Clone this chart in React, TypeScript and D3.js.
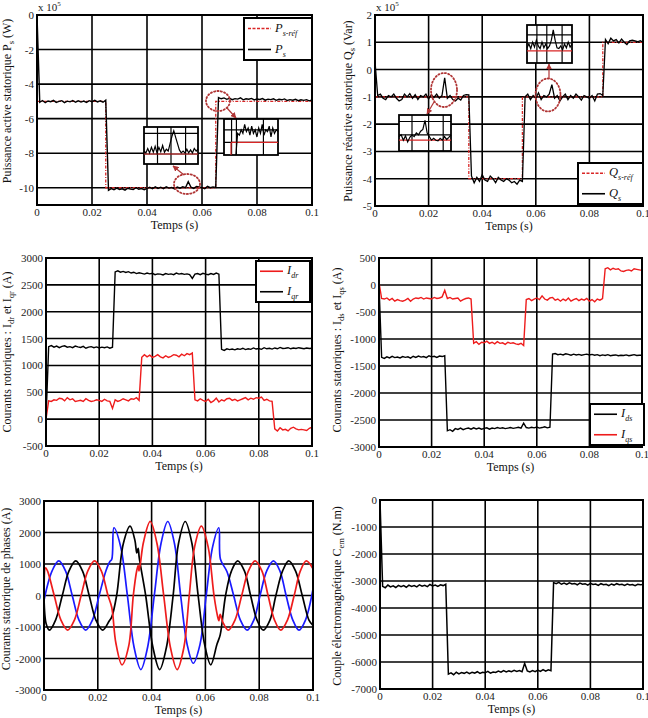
import React from "react";
import * as d3 from "d3";

const FONT = "'Liberation Serif', 'Times New Roman', serif";
const TIME_TICKS = [0, 0.02, 0.04, 0.06, 0.08, 0.1];
const TIME_TICK_LABELS = ["0", "0.02", "0.04", "0.06", "0.08", "0.1"];
const SAMPLE_STEP = 0.001;

// Ps (x 1e5 W), sampled every 1 ms
const PS_VALUES = [
  0, -5.05, -4.95, -5.08, -4.98, -5.02, -4.94, -5.06, -5.0, -4.96,
  -5.07, -4.99, -5.03, -4.95, -5.05, -4.97, -5.04, -4.98, -5.06, -4.96,
  -5.02, -4.94, -5.03, -4.97, -5.05, -4.93, -10.15, -10.05, -10.12, -10.02,
  -10.1, -10.06, -10.14, -10.03, -10.08, -10.11, -10.0, -10.09, -10.05, -10.12,
  -10.04, -9.98, -10.06, -9.95, -10.04, -9.97, -10.05, -9.94, -10.02, -9.98,
  -10.07, -9.96, -10.03, -9.95, -10.0, -9.65, -9.97, -10.04, -9.93, -9.96,
  -9.99, -10.05, -9.92, -10.0, -9.95, -9.98, -4.78, -4.85, -4.8, -4.88,
  -4.82, -4.9, -4.84, -4.87, -4.8, -4.91, -4.85, -4.88, -4.83, -4.92,
  -4.86, -4.89, -4.84, -4.93, -4.87, -4.9, -4.85, -4.94, -4.88, -4.91,
  -4.86, -4.95, -4.9, -4.93, -4.88, -4.96, -4.91, -4.94, -4.9, -4.97,
  -4.92,
];
const PS_REF_BREAKS = [0, 0.025, 0.065, 0.1];
const PS_REF_LEVELS = [-5, -10, -5];

// Qs (x 1e5 Var)
const QS_VALUES = [
  0.3, -0.95, -0.9, -1.05, -1.1, -0.95, -1.0, -0.9, -1.05, -1.15,
  -1.1, -0.9, -1.0, -0.88, -1.05, -0.92, -1.1, -0.95, -1.0, -0.9,
  -1.08, -0.92, -1.02, -0.9, -1.05, -0.95, -0.3, -1.05, -0.95, -1.1,
  -1.15, -1.05, -1.12, -0.95, -0.92, -0.93, -3.9, -4.15, -3.95, -4.1,
  -3.85, -4.05, -4.1, -3.9, -4.0, -4.15, -3.95, -4.05, -4.1, -4.0,
  -4.05, -4.15, -4.1, -4.2, -4.05, -4.1, -1.0, -0.9, -1.1, -0.95,
  -1.05, -0.85, -1.1, -0.95, -1.0, -0.9, -0.55, -1.05, -0.95, -1.15,
  -1.0, -0.9, -1.1, -0.95, -1.05, -0.9, -1.0, -1.12, -0.95, -1.0,
  -1.05, -0.95, -1.15, -0.9, -0.88, -0.95, 1.1, 0.95, 1.15, 1.05,
  1.1, 0.98, 1.12, 1.0, 0.92, 1.05, 1.08, 1.05, 1.02, 1.06,
  1.0,
];
const QS_REF_BREAKS = [0, 0.035, 0.055, 0.085, 0.1];
const QS_REF_LEVELS = [-1, -4, -1, 1];

// Rotor currents (A)
const IQR_VALUES = [
  0, 1350, 1370, 1340, 1360, 1330, 1355, 1365, 1340, 1350,
  1330, 1360, 1345, 1335, 1355, 1320, 1340, 1350, 1330, 1345,
  1325, 1340, 1330, 1345, 1320, 1340, 2740, 2760, 2735, 2750,
  2730, 2745, 2720, 2735, 2710, 2725, 2715, 2700, 2720, 2705,
  2715, 2690, 2705, 2700, 2685, 2710, 2695, 2705, 2690, 2720,
  2700, 2710, 2695, 2705, 2690, 2620, 2700, 2710, 2690, 2715,
  2700, 2690, 2710, 2695, 2720, 2700, 1300, 1280, 1310, 1295,
  1305, 1290, 1310, 1300, 1320, 1295, 1310, 1300, 1325, 1305,
  1315, 1300, 1330, 1310, 1320, 1305, 1325, 1310, 1335, 1315,
  1320, 1330, 1310, 1325, 1315, 1330, 1320, 1310, 1325, 1315,
  1320,
];
const IDR_VALUES = [
  0, 340, 330, 360, 350, 390, 380, 340, 400, 360,
  380, 330, 340, 350, 330, 380, 350, 330, 340, 360,
  350, 330, 370, 340, 330, 200, 360, 330, 350, 380,
  360, 340, 380, 370, 400, 350, 1150, 1200, 1160, 1190,
  1150, 1170, 1200, 1160, 1140, 1180, 1150, 1170, 1200, 1190,
  1160, 1210, 1180, 1220, 1200, 1230, 360, 340, 380, 350,
  330, 370, 310, 340, 390, 320, 360, 340, 380, 390,
  350, 370, 340, 360, 380, 400, 360, 390, 370, 400,
  390, 410, 350, 370, 340, 330, -180, -220, -160, -200,
  -190, -220, -170, -150, -180, -200, -190, -200, -210, -170,
  -150,
];

// Stator dq currents (A)
const IDS_VALUES = [
  0, -1340, -1360, -1330, -1350, -1320, -1345, -1335, -1350, -1325,
  -1340, -1330, -1355, -1320, -1340, -1315, -1335, -1325, -1345, -1310,
  -1330, -1320, -1340, -1315, -1325, -1310, -2700, -2680, -2710, -2660,
  -2675, -2650, -2680, -2660, -2650, -2670, -2645, -2665, -2650, -2670,
  -2655, -2645, -2670, -2650, -2660, -2640, -2655, -2645, -2660, -2650,
  -2640, -2655, -2645, -2635, -2650, -2560, -2640, -2650, -2635, -2645,
  -2630, -2650, -2640, -2625, -2645, -2635, -1280, -1270, -1290, -1280,
  -1295, -1275, -1285, -1300, -1280, -1295, -1285, -1300, -1290, -1280,
  -1295, -1285, -1300, -1290, -1310, -1295, -1305, -1290, -1310, -1300,
  -1295, -1310, -1300, -1305, -1295, -1310, -1300, -1290, -1305, -1300,
  -1300,
];
const IQS_VALUES = [
  50, -250, -260, -240, -280, -250, -300, -270, -290, -300,
  -280, -250, -300, -260, -240, -250, -230, -260, -240, -250,
  -260, -230, -250, -240, -220, -100, -250, -230, -260, -250,
  -240, -300, -270, -250, -240, -260, -1080, -1050, -1100, -1060,
  -1070, -1040, -1080, -1060, -1090, -1050, -1080, -1070, -1100, -1060,
  -1080, -1070, -1090, -1100, -1080, -1120, -270, -250, -290, -260,
  -240, -270, -200, -260, -280, -240, -230, -280, -260, -300,
  -260, -290, -240, -300, -270, -250, -290, -260, -280, -250,
  -300, -270, -310, -260, -280, -250, 300, 320, 280, 310,
  290, 300, 260, 250, 270, 280, 260, 300, 290, 280,
  270,
];

// Electromagnetic torque (N.m)
const CEM_VALUES = [
  0, -3200, -3250, -3150, -3220, -3180, -3240, -3160, -3210, -3170,
  -3230, -3150, -3200, -3170, -3220, -3140, -3190, -3160, -3210, -3130,
  -3180, -3150, -3200, -3140, -3170, -3120, -6450, -6400, -6470, -6380,
  -6440, -6390, -6420, -6370, -6430, -6380, -6410, -6360, -6420, -6380,
  -6400, -6350, -6410, -6370, -6390, -6340, -6380, -6320, -6370, -6330,
  -6360, -6310, -6350, -6320, -6360, -6050, -6330, -6370, -6320, -6360,
  -6300, -6350, -6280, -6340, -6290, -6320, -3060, -3100, -3050, -3120,
  -3080, -3130, -3070, -3110, -3090, -3140, -3080, -3120, -3100, -3150,
  -3090, -3130, -3110, -3160, -3100, -3140, -3120, -3170, -3110, -3150,
  -3100, -3140, -3120, -3160, -3110, -3150, -3130, -3170, -3120, -3140,
  -3130,
];

// Phase currents (t [s], i [A])
const PHASE_BLUE: [number, number][] = [
  [0, -150], [0.003, 780], [0.0055, 1100], [0.008, 780], [0.0105, 0], [0.013, -780],
  [0.0155, -1100], [0.018, -780], [0.0205, 0], [0.023, 780], [0.0245, 1080], [0.0252, 1150],
  [0.026, 2150], [0.0285, 1550], [0.031, 0], [0.0335, -1650], [0.036, -2350], [0.0385, -1650],
  [0.041, 0], [0.0435, 1650], [0.046, 2350], [0.0485, 1650], [0.0508, 0], [0.0532, -1550],
  [0.0555, -2150], [0.058, -1550], [0.0603, 0], [0.0627, 1550], [0.065, 2150], [0.0656, 1150],
  [0.068, 760], [0.0705, 0], [0.073, -780], [0.0755, -1100], [0.078, -780], [0.0803, 0],
  [0.0828, 780], [0.0853, 1100], [0.0877, 780], [0.09, 0], [0.0925, -780], [0.0948, -1100],
  [0.0972, -780], [0.1, 200],
];
const PHASE_BLACK: [number, number][] = [
  [0, -50], [0.0008, -900], [0.002, -1100], [0.0043, -780], [0.0068, 0], [0.0093, 780],
  [0.0118, 1100], [0.0143, 780], [0.0168, 0], [0.0193, -780], [0.0218, -1100], [0.0243, -800],
  [0.0252, -680], [0.027, 0], [0.0295, 1650], [0.032, 2200], [0.0338, 1750], [0.0345, 1350],
  [0.035, 1500], [0.0354, 1200], [0.0378, 0], [0.0405, -1650], [0.043, -2350], [0.0455, -1650],
  [0.048, 0], [0.05, 1650], [0.0525, 2350], [0.055, 1650], [0.0573, 0], [0.0597, -1550],
  [0.062, -2200], [0.0643, -1550], [0.0655, -1250], [0.0675, 0], [0.0697, 780], [0.072, 1100],
  [0.0745, 780], [0.0768, 0], [0.0792, -780], [0.0815, -1100], [0.084, -780], [0.0862, 0],
  [0.0887, 780], [0.091, 1100], [0.0935, 780], [0.096, 0], [0.0985, -780], [0.1, -950],
];
const PHASE_RED: [number, number][] = [
  [0, 0], [0.0006, 880], [0.0013, 780], [0.0038, 0], [0.0063, -780], [0.0088, -1100],
  [0.0113, -780], [0.0138, 0], [0.0163, 780], [0.0188, 1100], [0.0213, 780], [0.0238, 0],
  [0.0252, -380], [0.0267, -1500], [0.029, -2200], [0.0315, -1600], [0.0332, 0], [0.0345, 800],
  [0.035, 950], [0.0353, 780], [0.0358, 1000], [0.037, 1700], [0.0395, 2350], [0.042, 1650],
  [0.0445, 0], [0.047, -1650], [0.0495, -2350], [0.052, -1650], [0.054, 0], [0.056, 1550],
  [0.0585, 2200], [0.061, 1550], [0.0632, 0], [0.0645, -650], [0.065, -800], [0.0655, -600],
  [0.0665, -850], [0.0685, -1100], [0.071, -780], [0.0735, 0], [0.076, 780], [0.0785, 1100],
  [0.081, 780], [0.0833, 0], [0.0857, -780], [0.088, -1100], [0.0905, -780], [0.093, 0],
  [0.0953, 780], [0.0975, 1100], [0.1, 850],
];

// Zoomed inset traces (relative level 0..1)
const INSET_PS_DIP = [0.35, 0.3, 0.42, 0.3, 0.45, 0.32, 0.48, 0.3, 0.45, 0.33, 0.5, 0.32, 0.4, 0.35, 0.55, 0.75, 0.9, 0.72, 0.55, 0.38, 0.3, 0.35, 0.3, 0.4, 0.3, 0.38, 0.3, 0.42, 0.35, 0.4];
const INSET_PS_RISE = [0.0, 0.6, 0.55, 0.7, 0.6, 0.85, 0.65, 0.75, 0.55, 0.8, 0.6, 0.7, 0.5, 0.75, 0.6, 0.85, 0.55, 0.7, 0.65, 0.8, 0.5, 0.75, 0.6, 0.7, 0.65];
const INSET_QS_LEFT = [0.4, 0.45, 0.3, 0.42, 0.25, 0.38, 0.45, 0.4, 0.5, 0.45, 0.55, 0.6, 0.85, 0.5, 0.4, 0.3, 0.35, 0.3, 0.28, 0.35, 0.3, 0.4, 0.32, 0.38, 0.45];
const INSET_QS_RIGHT = [0.4, 0.5, 0.38, 0.55, 0.42, 0.6, 0.45, 0.38, 0.55, 0.4, 0.5, 0.38, 0.45, 0.6, 0.87, 0.6, 0.4, 0.38, 0.45, 0.35, 0.5, 0.4, 0.55, 0.42, 0.5];

const P1_TICKS = [0, -2, -4, -6, -8, -10];
const P2_TICKS = [2, 1, 0, -1, -2, -3, -4, -5];
const P3_TICKS = [3000, 2500, 2000, 1500, 1000, 500, 0, -500];
const P4_TICKS = [500, 0, -500, -1000, -1500, -2000, -2500, -3000];
const P5_TICKS = [3000, 2000, 1000, 0, -1000, -2000, -3000];
const P6_TICKS = [0, -1000, -2000, -3000, -4000, -5000, -6000, -7000];

type Cfg = {
  id: string; left: number; right: number; top: number; bottom: number;
  domain: [number, number]; ticks: number[]; labelX: number; labelY: number;
};

const C1: Cfg = { id: "p1", left: 37, right: 312, top: 15, bottom: 205, domain: [-11, 0], ticks: P1_TICKS, labelX: 11, labelY: 101 };
const C2: Cfg = { id: "p2", left: 375, right: 643, top: 15, bottom: 206, domain: [-5, 2], ticks: P2_TICKS, labelX: 352, labelY: 111 };
const C3: Cfg = { id: "p3", left: 46, right: 312, top: 258, bottom: 446, domain: [-500, 3000], ticks: P3_TICKS, labelX: 11, labelY: 352 };
const C4: Cfg = { id: "p4", left: 379, right: 642, top: 258, bottom: 447, domain: [-3000, 500], ticks: P4_TICKS, labelX: 341, labelY: 350 };
const C5: Cfg = { id: "p5", left: 44, right: 313, top: 501, bottom: 690, domain: [-3000, 3000], ticks: P5_TICKS, labelX: 10, labelY: 589 };
const C6: Cfg = { id: "p6", left: 380, right: 643, top: 500, bottom: 689, domain: [-7000, 0], ticks: P6_TICKS, labelX: 341, labelY: 596 };

const RED = "#ee1c1c";
const REF_RED = "#d92626";
const BLUE = "#1a1aff";
const DARK_RED = "#b03535";

type Sc = d3.ScaleLinear<number, number>;

function sampled(values: number[]): [number, number][] {
  return values.map((v, i) => [i * SAMPLE_STEP, v]);
}
function stepped(breaks: number[], levels: number[]): [number, number][] {
  const pts: [number, number][] = [];
  levels.forEach((lv, k) => { pts.push([breaks[k], lv]); pts.push([breaks[k + 1], lv]); });
  return pts;
}
function linePath(x: Sc, y: Sc, pts: [number, number][], curve?: d3.CurveFactory) {
  const g = d3.line<[number, number]>().x((d) => x(d[0])).y((d) => y(d[1]));
  if (curve) g.curve(curve);
  return g(pts) || "";
}

function Panel({ cfg, yLabel, children, overlay, xLabelOffset = 24 }: {
  cfg: Cfg; yLabel: React.ReactNode; children: (x: Sc, y: Sc) => React.ReactNode;
  overlay?: (x: Sc, y: Sc) => React.ReactNode; xLabelOffset?: number;
}) {
  const x = d3.scaleLinear().domain([0, 0.1]).range([cfg.left, cfg.right]);
  const y = d3.scaleLinear().domain(cfg.domain).range([cfg.bottom, cfg.top]);
  return (
    <g>
      <defs>
        <clipPath id={cfg.id + "clip"}>
          <rect x={cfg.left} y={cfg.top} width={cfg.right - cfg.left} height={cfg.bottom - cfg.top} />
        </clipPath>
      </defs>
      {TIME_TICKS.map((t) => (
        <line key={"gx" + t} x1={x(t)} x2={x(t)} y1={cfg.top} y2={cfg.bottom} stroke="#000" strokeWidth={1.6} />
      ))}
      {cfg.ticks.map((v) => (
        <line key={"gy" + v} x1={cfg.left} x2={cfg.right} y1={y(v)} y2={y(v)} stroke="#000" strokeWidth={1.6} />
      ))}
      <g clipPath={`url(#${cfg.id}clip)`}>{children(x, y)}</g>
      <rect x={cfg.left} y={cfg.top} width={cfg.right - cfg.left} height={cfg.bottom - cfg.top} fill="none" stroke="#000" strokeWidth={2} />
      {overlay ? overlay(x, y) : null}
      {cfg.ticks.map((v) => (
        <text key={"ty" + v} x={cfg.left - 3} y={y(v) + 4} fontSize={11} textAnchor="end" fill="#222">{String(v)}</text>
      ))}
      {TIME_TICKS.map((t, i) => (
        <text key={"tx" + t} x={x(t)} y={cfg.bottom + 11} fontSize={11} textAnchor="middle" fill="#222">{TIME_TICK_LABELS[i]}</text>
      ))}
      <text x={(cfg.left + cfg.right) / 2} y={cfg.bottom + xLabelOffset} fontSize={12} textAnchor="middle" fill="#111">Temps (s)</text>
      <text transform={`translate(${cfg.labelX},${cfg.labelY}) rotate(-90)`} fontSize={12} textAnchor="middle" fill="#111">{yLabel}</text>
    </g>
  );
}

function Inset({ box, gridX, gridY, trace, xStart, redLevel, redFrom, redVertical }: {
  box: { x: number; y: number; w: number; h: number }; gridX: number[]; gridY: number[];
  trace: number[]; xStart: number; redLevel: number; redFrom: number; redVertical?: number;
}) {
  const sx = d3.scaleLinear().domain([0, 1]).range([box.x, box.x + box.w]);
  const sy = d3.scaleLinear().domain([0, 1]).range([box.y + box.h, box.y]);
  const pts: [number, number][] = trace.map((v, i) => [xStart + (i * (1 - xStart)) / (trace.length - 1), v]);
  return (
    <g>
      <rect x={box.x} y={box.y} width={box.w} height={box.h} fill="#fff" stroke="#000" strokeWidth={1.8} />
      {gridX.map((g) => <line key={"ix" + g} x1={sx(g)} x2={sx(g)} y1={box.y} y2={box.y + box.h} stroke="#000" strokeWidth={1.2} />)}
      {gridY.map((g) => <line key={"iy" + g} x1={box.x} x2={box.x + box.w} y1={sy(g)} y2={sy(g)} stroke="#000" strokeWidth={1.2} />)}
      <line x1={sx(redFrom)} x2={sx(1)} y1={sy(redLevel)} y2={sy(redLevel)} stroke={REF_RED} strokeWidth={1.2} />
      {redVertical !== undefined ? (
        <line x1={sx(redVertical)} x2={sx(redVertical)} y1={sy(0)} y2={sy(redLevel)} stroke={REF_RED} strokeWidth={1.2} />
      ) : null}
      <path d={linePath(sx, sy, pts)} fill="none" stroke="#000" strokeWidth={1.2} />
    </g>
  );
}

function Callout({ cx, cy, rx, ry, ax1, ay1, ax2, ay2 }: { cx: number; cy: number; rx: number; ry: number; ax1: number; ay1: number; ax2: number; ay2: number }) {
  return (
    <g>
      <ellipse cx={cx} cy={cy} rx={rx} ry={ry} fill="none" stroke={DARK_RED} strokeWidth={1.8} strokeDasharray="1.2,2.2" strokeLinecap="round" />
      <line x1={ax1} y1={ay1} x2={ax2} y2={ay2} stroke={DARK_RED} strokeWidth={1.2} markerEnd="url(#arrowHead)" />
    </g>
  );
}

function LegendBox({ x, y, w, h, items }: { x: number; y: number; w: number; h: number; items: { color: string; dash?: string; main: string; sub: string }[] }) {
  const rowH = h / items.length;
  return (
    <g>
      <rect x={x} y={y} width={w} height={h} fill="#fff" stroke="#000" strokeWidth={2} />
      {items.map((it, i) => {
        const cy = y + rowH * (i + 0.5);
        return (
          <g key={it.main + it.sub}>
            <line x1={x + 4} x2={x + 27} y1={cy} y2={cy} stroke={it.color} strokeWidth={it.dash ? 1.4 : 1.6} strokeDasharray={it.dash} />
            <text x={x + 31} y={cy + 3} fontSize={12.5} fontStyle="italic" fill="#111">
              {it.main}
              <tspan fontSize={8} dy={4}>{it.sub}</tspan>
            </text>
          </g>
        );
      })}
    </g>
  );
}

export default function App() {
  return (
    <svg width={648} height={718} style={{ position: "absolute", left: 0, top: 0, background: "#fff" }} fontFamily={FONT}>
      <defs>
        <marker id="arrowHead" viewBox="0 0 10 10" refX="9" refY="5" markerWidth="5" markerHeight="5" orient="auto">
          <path d="M0,0 L10,5 L0,10 z" fill={DARK_RED} />
        </marker>
      </defs>
      <rect width={648} height={718} fill="#fff" />

      {/* Panel 1: Ps */}
      <Panel
        cfg={C1}
        yLabel={<>Puissance active statorique P<tspan fontSize={8.5} dy={3}>s</tspan><tspan dy={-3}> (W)</tspan></>}
        children={(x, y) => (
          <g>
            <path d={linePath(x, y, stepped(PS_REF_BREAKS, PS_REF_LEVELS))} fill="none" stroke={REF_RED} strokeWidth={1.3} strokeDasharray="3,1.5,1,1.5" />
            <path d={linePath(x, y, sampled(PS_VALUES))} fill="none" stroke="#000" strokeWidth={1.4} />
          </g>
        )}
        overlay={() => (
          <g>
            <Callout cx={218} cy={101} rx={12} ry={10} ax1={227} ay1={108} ax2={236} ay2={118} />
            <Callout cx={187} cy={184} rx={13} ry={10} ax1={184} ay1={175} ax2={173} ay2={166} />
            <Inset box={{ x: 144, y: 127, w: 54, h: 37 }} gridX={[0.25, 0.5, 0.77]} gridY={[0.83, 0.27]} trace={INSET_PS_DIP} xStart={0} redLevel={0.27} redFrom={0} />
            <Inset box={{ x: 224, y: 119, w: 54, h: 36 }} gridX={[0.14, 0.23, 0.73]} gridY={[0.7, 0.35]} trace={INSET_PS_RISE} xStart={0.22} redLevel={0.35} redFrom={0.13} redVertical={0.13} />
            <LegendBox x={244} y={18} w={68} h={42} items={[
              { color: REF_RED, dash: "3,1.5", main: "P", sub: "s-réf" },
              { color: "#000", main: "P", sub: "s" },
            ]} />
            <text x={C1.left + 1} y={11} fontSize={11} fill="#222">x 10<tspan fontSize={7} dy={-5}>5</tspan></text>
          </g>
        )}
      />

      {/* Panel 2: Qs */}
      <Panel
        cfg={C2}
        yLabel={<>Puissance réactive statorique Q<tspan fontSize={8.5} dy={3}>s</tspan><tspan dy={-3}> (Var)</tspan></>}
        children={(x, y) => (
          <g>
            <path d={linePath(x, y, stepped(QS_REF_BREAKS, QS_REF_LEVELS))} fill="none" stroke={REF_RED} strokeWidth={1.3} strokeDasharray="3,1.5,1,1.5" />
            <path d={linePath(x, y, sampled(QS_VALUES))} fill="none" stroke="#000" strokeWidth={1.3} />
          </g>
        )}
        overlay={() => (
          <g>
            <Callout cx={444} cy={90} rx={13} ry={17} ax1={434} ay1={102} ax2={427} ay2={114} />
            <Callout cx={548} cy={95} rx={12.5} ry={16.5} ax1={549} ay1={79} ax2={549} ay2={64} />
            <Inset box={{ x: 399, y: 115, w: 52, h: 36 }} gridX={[0.25, 0.57, 0.85]} gridY={[0.82, 0.45]} trace={INSET_QS_LEFT} xStart={0} redLevel={0.3} redFrom={0} />
            <Inset box={{ x: 527, y: 25, w: 45, h: 38 }} gridX={[0.22, 0.44, 0.78]} gridY={[0.74, 0.53]} trace={INSET_QS_RIGHT} xStart={0} redLevel={0.32} redFrom={0} />
            <LegendBox x={578} y={163} w={65} h={41} items={[
              { color: REF_RED, dash: "3,1.5", main: "Q", sub: "s-réf" },
              { color: "#000", main: "Q", sub: "s" },
            ]} />
            <text x={C2.left + 1} y={11} fontSize={11} fill="#222">x 10<tspan fontSize={7} dy={-5}>5</tspan></text>
          </g>
        )}
      />

      {/* Panel 3: rotor currents */}
      <Panel
        cfg={C3}
        yLabel={<>Courants rotoriques : I<tspan fontSize={8.5} dy={3}>dr</tspan><tspan dy={-3}> et I</tspan><tspan fontSize={8.5} dy={3}>qr</tspan><tspan dy={-3}> (A)</tspan></>}
        children={(x, y) => (
          <g>
            <path d={linePath(x, y, sampled(IQR_VALUES))} fill="none" stroke="#000" strokeWidth={1.4} />
            <path d={linePath(x, y, sampled(IDR_VALUES))} fill="none" stroke={RED} strokeWidth={1.4} />
          </g>
        )}
        overlay={() => (
          <LegendBox x={256} y={261} w={54} h={41} items={[
            { color: RED, main: "I", sub: "dr" },
            { color: "#000", main: "I", sub: "qr" },
          ]} />
        )}
      />

      {/* Panel 4: stator dq currents */}
      <Panel
        cfg={C4}
        yLabel={<>Courants statoriques : I<tspan fontSize={8.5} dy={3}>ds</tspan><tspan dy={-3}> et I</tspan><tspan fontSize={8.5} dy={3}>qs</tspan><tspan dy={-3}> (A)</tspan></>}
        children={(x, y) => (
          <g>
            <path d={linePath(x, y, sampled(IDS_VALUES))} fill="none" stroke="#000" strokeWidth={1.4} />
            <path d={linePath(x, y, sampled(IQS_VALUES))} fill="none" stroke={RED} strokeWidth={1.4} />
          </g>
        )}
        overlay={() => (
          <LegendBox x={590} y={404} w={54} h={41} items={[
            { color: "#000", main: "I", sub: "ds" },
            { color: RED, main: "I", sub: "qs" },
          ]} />
        )}
      />

      {/* Panel 5: phase currents */}
      <Panel
        cfg={C5}
        yLabel={<>Courants statorique de phases (A)</>}
        children={(x, y) => (
          <g>
            <path d={linePath(x, y, PHASE_BLUE, d3.curveCatmullRom)} fill="none" stroke={BLUE} strokeWidth={1.7} />
            <path d={linePath(x, y, PHASE_BLACK, d3.curveCatmullRom)} fill="none" stroke="#000" strokeWidth={1.7} />
            <path d={linePath(x, y, PHASE_RED, d3.curveCatmullRom)} fill="none" stroke={RED} strokeWidth={1.7} />
          </g>
        )}
      />

      {/* Panel 6: torque */}
      <Panel
        cfg={C6}
        yLabel={<>Couple électromagnétique  C<tspan fontSize={8.5} dy={3}>em</tspan><tspan dy={-3}> (N.m)</tspan></>}
        children={(x, y) => (
          <path d={linePath(x, y, sampled(CEM_VALUES))} fill="none" stroke="#000" strokeWidth={1.5} />
        )}
      />
    </svg>
  );
}
